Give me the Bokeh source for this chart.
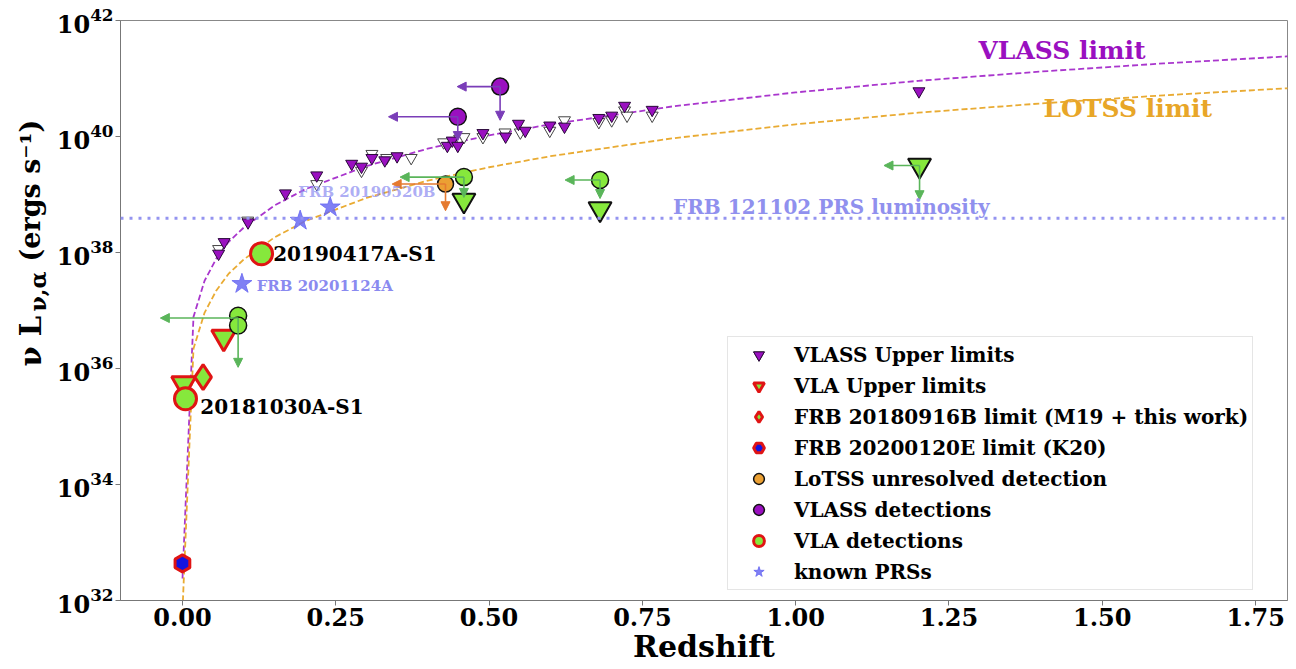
import math
from bokeh.plotting import figure
from bokeh.layouts import row
from bokeh.models import (Range1d, FixedTicker, Arrow, NormalHead, Label, Legend,
                          LegendItem, Span, ColumnDataSource, NumeralTickFormatter,
                          LogTickFormatter)
from bokeh.embed import file_html
from bokeh.resources import INLINE

# ---------------- data (luminosities as log10 of erg/s) ----------------
curve_z = [0.0001, 0.018, 0.036, 0.055, 0.075, 0.1, 0.15, 0.2, 0.3, 0.4, 0.5,
           0.6, 0.8, 1.0, 1.2, 1.4, 1.6, 1.8, 1.85]
vlass_limit_logL = [32.38, 36.89, 37.51, 37.89, 38.18, 38.43, 38.81, 39.09, 39.49,
                    39.79, 40.02, 40.21, 40.52, 40.76, 40.96, 41.12, 41.26, 41.38, 41.41]
lotss_limit_logL = [31.83, 36.34, 36.96, 37.34, 37.63, 37.88, 38.26, 38.54, 38.94,
                    39.24, 39.47, 39.66, 39.97, 40.21, 40.41, 40.57, 40.71, 40.83, 40.86]
prs_121102_logL = 38.59

# VLASS upper limits (open and filled)
vlass_ul_open_z = [0.059, 0.1065, 0.219, 0.292, 0.309, 0.333, 0.373, 0.426, 0.452,
                   0.459, 0.49, 0.526, 0.551, 0.599, 0.623, 0.679, 0.700, 0.721,
                   0.725, 0.766]
vlass_ul_open_logL = [38.06, 38.55, 39.18, 39.41, 39.70, 39.63, 39.63, 39.90, 39.96,
                      39.99, 39.99, 40.07, 40.07, 40.10, 40.28, 40.25, 40.28, 40.45,
                      40.36, 40.36]
vlass_ul_fill_z = [0.059, 0.068, 0.107, 0.168, 0.219, 0.276, 0.292, 0.309, 0.330,
                   0.350, 0.432, 0.440, 0.449, 0.49, 0.527, 0.548, 0.559, 0.599,
                   0.623, 0.679, 0.700, 0.721, 0.766, 1.201]
vlass_ul_fill_logL = [37.98, 38.18, 38.52, 39.02, 39.33, 39.53, 39.48, 39.63, 39.59,
                      39.66, 39.84, 39.93, 39.84, 40.06, 40.00, 40.22, 40.10, 40.19,
                      40.17, 40.32, 40.36, 40.53, 40.46, 40.78]

# VLA upper limits
vla_ul_red_z = [0.0673, 0.002]
vla_ul_red_logL = [36.54, 35.74]
vla_ul_green_z = [0.459, 0.681, 1.202]
vla_ul_green_logL = [38.90, 38.75, 39.50]

# FRB 20180916B and FRB 20200120E limits
frb180916_z = [0.0337]
frb180916_logL = [35.85]
frb200120_z = [0.0]
frb200120_logL = [32.64]

# LoTSS unresolved detection
lotss_det_z = [0.429]
lotss_det_logL = [39.18]

# VLASS detections
vlass_det_z = [0.518, 0.449]
vlass_det_logL = [40.86, 40.34]

# VLA detections
vla_det_red_z = [0.129, 0.005]
vla_det_red_logL = [37.98, 35.48]
vla_det_red_names = ["20190417A-S1", "20181030A-S1"]
vla_det_green_z = [0.0908, 0.0908, 0.459, 0.681]
vla_det_green_logL = [36.91, 36.74, 39.30, 39.25]

# known PRSs
prs_z = [0.192, 0.241, 0.097]
prs_logL = [38.55, 38.78, 37.46]

# limit arrows: start point, redshift upper limit, luminosity upper limit
vla_arrow_z = [0.0908, 0.459, 0.681, 1.202]
vla_arrow_logL = [36.87, 39.30, 39.25, 39.50]
vla_arrow_zmax = [-0.036, 0.355, 0.624, 1.144]
vla_arrow_logLmax = [36.02, 38.95, 38.93, 38.91]
lotss_arrow_z = [0.429]
lotss_arrow_logL = [39.18]
lotss_arrow_zmax = [0.342]
lotss_arrow_logLmax = [38.72]
vlass_arrow_z = [0.518, 0.449]
vlass_arrow_logL = [40.86, 40.34]
vlass_arrow_zmax = [0.448, 0.336]
vlass_arrow_logLmax = [40.28, 39.93]

x_ticks = [0.0, 0.25, 0.5, 0.75, 1.0, 1.25, 1.5, 1.75]
y_tick_exponents = [32, 34, 36, 38, 40, 42]


def L(vals):
    return [10 ** v for v in vals]


FONT = "DejaVu Serif"
LABEL_W = 52

p = figure(width=1296 - LABEL_W, height=669, x_range=Range1d(-0.101, 1.802),
           y_range=Range1d(1e32, 1e42), y_axis_type="log",
           output_backend="svg", toolbar_location=None,
           min_border_left=120 - LABEL_W, min_border_right=9, min_border_top=20,
           min_border_bottom=69)
p.xgrid.visible = False
p.ygrid.visible = False
p.outline_line_color = "#888888"
p.background_fill_color = "white"
p.border_fill_color = "white"

p.xaxis.ticker = FixedTicker(ticks=x_ticks)
p.xaxis.formatter = NumeralTickFormatter(format="0.00")
p.yaxis.ticker = FixedTicker(ticks=[10.0 ** e for e in y_tick_exponents])
p.yaxis.formatter = LogTickFormatter()
for ax in (p.xaxis, p.yaxis):
    ax.major_label_text_font = FONT
    ax.major_label_text_font_style = "bold"
    ax.major_label_text_font_size = "24px"
    ax.major_label_text_color = "black"
    ax.axis_line_color = "#777777"
    ax.major_tick_line_color = "#777777"
    ax.major_tick_out = 5
    ax.major_tick_in = 0
    ax.minor_tick_line_color = None
    ax.major_label_standoff = 2
p.xaxis.axis_label = "Redshift"
p.xaxis.axis_label_text_font = FONT
p.xaxis.axis_label_text_font_style = "bold"
p.xaxis.axis_label_text_font_size = "30px"
p.xaxis.axis_label_text_color = "black"
p.xaxis.axis_label_standoff = 0

# limit curves
p.line(curve_z, L(vlass_limit_logL), line_color="#a020c8", line_width=1.8,
       line_dash="6 3", line_alpha=0.9)
p.line(curve_z, L(lotss_limit_logL), line_color="#e8a628", line_width=1.8,
       line_dash="6 3", line_alpha=0.95)
p.add_layout(Span(location=10 ** prs_121102_logL, dimension="width",
                  line_color="#9494f0", line_width=3, line_dash="3 6"))

# markers
r_open = p.scatter(vlass_ul_open_z, L(vlass_ul_open_logL), marker="inverted_triangle",
                   size=12, fill_color="white", line_color="#444444", line_width=1)
r_fill = p.scatter(vlass_ul_fill_z, L(vlass_ul_fill_logL), marker="inverted_triangle",
                   size=12, fill_color="#9a10c0", line_color="#2a0a3a", line_width=1)
r_vla_ul_red = p.scatter(vla_ul_red_z, L(vla_ul_red_logL), marker="inverted_triangle",
                         size=24, fill_color="#86e83c", line_color="#e01414", line_width=3)
r_vla_ul_green = p.scatter(vla_ul_green_z, L(vla_ul_green_logL), marker="inverted_triangle",
                           size=23, fill_color="#86e83c", line_color="#111111", line_width=2)
r_dia = p.scatter(frb180916_z, L(frb180916_logL), marker="diamond", size=25,
                  fill_color="#86e83c", line_color="#e01414", line_width=3)
r_hex = p.scatter(frb200120_z, L(frb200120_logL), marker="hex", size=17, angle=math.pi / 6,
                  fill_color="#1414e0", line_color="#e01414", line_width=3)
r_lotss = p.scatter(lotss_det_z, L(lotss_det_logL), marker="circle", size=16,
                    fill_color="#eba033", line_color="#111111", line_width=1.5)
r_vlass_det = p.scatter(vlass_det_z, L(vlass_det_logL), marker="circle", size=17,
                        fill_color="#9a10c0", line_color="#111111", line_width=1.5)
r_vla_det_green = p.scatter(vla_det_green_z, L(vla_det_green_logL), marker="circle", size=17,
                            fill_color="#86e83c", line_color="#111111", line_width=1.5)
r_vla_det_red = p.scatter(vla_det_red_z, L(vla_det_red_logL), marker="circle", size=22,
                          fill_color="#86e83c", line_color="#e01414", line_width=3)
r_prs = p.scatter(prs_z, L(prs_logL), marker="star", size=21, fill_color="#6a6af2",
                  line_color="#6a6af2", fill_alpha=0.85, line_alpha=0.85)


def add_arrows(z, logL, zmax, logLmax, color):
    yl = L(logL)
    h = ColumnDataSource(dict(x0=z, y0=yl, x1=zmax, y1=yl))
    v = ColumnDataSource(dict(x0=z, y0=yl, x1=z, y1=L(logLmax)))
    for src in (h, v):
        p.add_layout(Arrow(end=NormalHead(size=9, fill_color=color, line_color=color,
                                          line_width=1),
                           x_start="x0", y_start="y0", x_end="x1", y_end="y1",
                           source=src, line_color=color, line_width=1.6))


add_arrows(vla_arrow_z, vla_arrow_logL, vla_arrow_zmax, vla_arrow_logLmax, "#5ab55a")
add_arrows(lotss_arrow_z, lotss_arrow_logL, lotss_arrow_zmax, lotss_arrow_logLmax, "#e57a30")
add_arrows(vlass_arrow_z, vlass_arrow_logL, vlass_arrow_zmax, vlass_arrow_logLmax, "#7a3db8")

# text labels


def add_label(x, logy, text, color, size, alpha=1.0):
    p.add_layout(Label(x=x, y=10 ** logy, text=text, text_color=color, text_alpha=alpha,
                       text_font=FONT, text_font_style="bold", text_font_size=size,
                       text_baseline="middle", text_align="left"))


add_label(1.298, 41.48, "VLASS limit", "#9a10c0", "25px")
add_label(1.404, 40.48, "LOTSS limit", "#e8a628", "25px")
add_label(0.80, 38.78, "FRB 121102 PRS luminosity", "#9090ee", "20px")
add_label(0.148, 37.98, vla_det_red_names[0], "black", "20px")
add_label(0.029, 35.33, vla_det_red_names[1], "black", "20px")
add_label(0.121, 37.43, "FRB 20201124A", "#8a8af0", "15px")
add_label(0.189, 39.05, "FRB 20190520B", "#8a8af0", "15px", alpha=0.7)

legend = Legend(items=[
    LegendItem(label="VLASS Upper limits", renderers=[r_open, r_fill]),
    LegendItem(label="VLA Upper limits", renderers=[r_vla_ul_red]),
    LegendItem(label="FRB 20180916B limit (M19 + this work)", renderers=[r_dia]),
    LegendItem(label="FRB 20200120E limit (K20)", renderers=[r_hex]),
    LegendItem(label="LoTSS unresolved detection", renderers=[r_lotss]),
    LegendItem(label="VLASS detections", renderers=[r_vlass_det]),
    LegendItem(label="VLA detections", renderers=[r_vla_det_red]),
    LegendItem(label="known PRSs", renderers=[r_prs]),
], location=(607, 10), label_text_font=FONT, label_text_font_style="bold",
    label_text_font_size="20px", label_text_color="black", glyph_width=53,
    glyph_height=27, label_height=27, spacing=4, padding=4, label_standoff=9,
    border_line_color="#cccccc", border_line_width=1, background_fill_color="white",
    background_fill_alpha=0.85, margin=0)
p.add_layout(legend)

# narrow strip holding the rotated y-axis title (with real subscript sizing)
ylab = figure(width=LABEL_W, height=669, x_range=Range1d(0, LABEL_W),
              y_range=Range1d(0, 669), output_backend="svg", toolbar_location=None,
              x_axis_location=None, y_axis_location=None, min_border=0)
ylab.outline_line_color = None
ylab.xgrid.visible = False
ylab.ygrid.visible = False
ylab.border_fill_color = "white"
for txt, xs, ys, fs in (("ν L", 30, 234, "29px"), ("ν,α", 37, 289, "22px"),
                        ("(ergs s⁻¹)", 30, 339, "27px")):
    ylab.add_layout(Label(x=xs, y=ys, x_units="screen", y_units="screen", text=txt,
                          angle=math.pi / 2, text_font=FONT, text_font_style="bold",
                          text_font_size=fs, text_color="black", text_baseline="middle",
                          text_align="left"))

layout = row(ylab, p)
open("out.html", "w").write(file_html(layout, INLINE))
